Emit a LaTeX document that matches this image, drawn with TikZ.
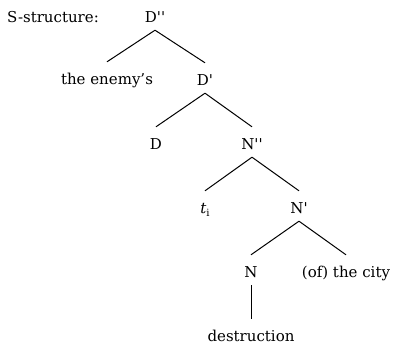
\documentclass[tikz,border=0pt]{standalone}
\usepackage{fontspec}
\newfontfamily\treefont{DejaVu Serif}
\begin{document}
\begin{tikzpicture}[x=1pt,y=-1pt,
  lab/.style={anchor=base,inner sep=0pt,text height=22pt,text depth=8pt,
    font=\treefont\fontsize{15}{18}\selectfont,text=black},
  edge/.style={draw=black,line width=1pt}]
\useasboundingbox (0,0) rectangle (394,346);
\node[lab,anchor=base west] (ss) at (7,22) {S-structure:};
\node[lab] (dpp) at (155,22) {D''};
\node[lab] (enemy) at (107,84) {the enemy’s};
\node[lab] (dp) at (205,85) {D'};
\node[lab] (d) at (156,149) {D};
\node[lab] (npp) at (252,149) {N''};
\node[lab] (t) at (205,213) {{\itshape t}\raisebox{-3pt}{\fontsize{10}{10}\selectfont i}};
\node[lab] (np) at (299,213) {N'};
\node[lab] (n) at (251,277) {N};
\node[lab] (city) at (346,277) {(of) the city};
\node[lab] (destr) at (251,341) {destruction};
\draw[edge] (dpp.south) -- (enemy.north);
\draw[edge] (dpp.south) -- (dp.north);
\draw[edge] (dp.south) -- (d.north);
\draw[edge] (dp.south) -- (npp.north);
\draw[edge] (npp.south) -- (t.north);
\draw[edge] (npp.south) -- (np.north);
\draw[edge] (np.south) -- (n.north);
\draw[edge] (np.south) -- (city.north);
\draw[edge] (n.south) -- (destr.north);
\end{tikzpicture}
\end{document}
